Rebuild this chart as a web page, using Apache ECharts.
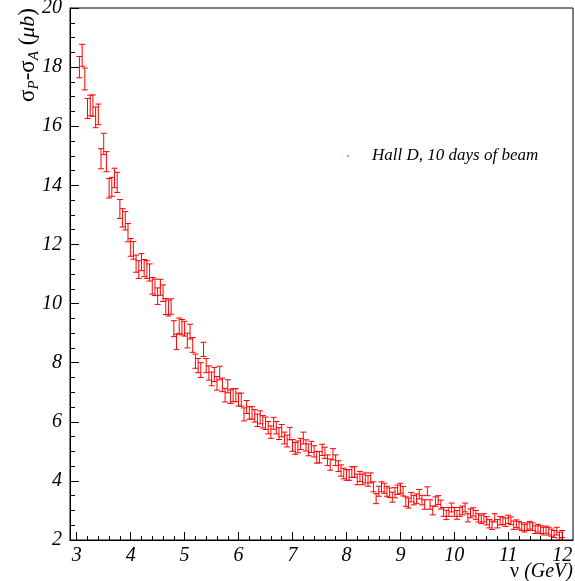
<!DOCTYPE html>
<html>
<head>
<meta charset="utf-8">
<script src="https://cdn.jsdelivr.net/npm/echarts@6/dist/echarts.min.js"></script>
<style>
html,body{margin:0;padding:0;background:#fff;}
#chart{width:575px;height:581px;}
</style>
</head>
<body>
<div id="chart"></div>
<script>
// photon energy nu (GeV)
var nu = [
3.05,3.10,3.15,3.20,3.25,3.30,3.35,3.40,3.45,3.50,
3.55,3.60,3.65,3.70,3.75,3.80,3.85,3.90,3.95,4.00,
4.05,4.10,4.15,4.20,4.25,4.30,4.35,4.40,4.45,4.50,
4.55,4.60,4.65,4.70,4.75,4.80,4.85,4.90,4.95,5.00,
5.05,5.10,5.15,5.20,5.25,5.30,5.35,5.40,5.45,5.50,
5.55,5.60,5.65,5.70,5.75,5.80,5.85,5.90,5.95,6.00,
6.05,6.10,6.15,6.20,6.25,6.30,6.35,6.40,6.45,6.50,
6.55,6.60,6.65,6.70,6.75,6.80,6.85,6.90,6.95,7.00,
7.05,7.10,7.15,7.20,7.25,7.30,7.35,7.40,7.45,7.50,
7.55,7.60,7.65,7.70,7.75,7.80,7.85,7.90,7.95,8.00,
8.05,8.10,8.15,8.20,8.25,8.30,8.35,8.40,8.45,8.50,
8.55,8.60,8.65,8.70,8.75,8.80,8.85,8.90,8.95,9.00,
9.05,9.10,9.15,9.20,9.25,9.30,9.35,9.40,9.45,9.50,
9.55,9.60,9.65,9.70,9.75,9.80,9.85,9.90,9.95,10.00,
10.05,10.10,10.15,10.20,10.25,10.30,10.35,10.40,10.45,10.50,
10.55,10.60,10.65,10.70,10.75,10.80,10.85,10.90,10.95,11.00,
11.05,11.10,11.15,11.20,11.25,11.30,11.35,11.40,11.45,11.50,
11.55,11.60,11.65,11.70,11.75,11.80,11.85,11.90,11.95,12.00
];
// sigma_P - sigma_A (microbarn)
var sigma = [
18.0,18.4,17.6,16.6,16.7,16.7,16.3,16.4,14.9,15.4,
14.8,13.9,13.95,14.25,14.1,13.2,12.9,12.8,12.4,11.9,
11.8,11.35,11.15,11.4,11.2,11.15,11.05,10.6,10.55,10.25,
10.55,10.35,9.9,9.85,9.9,9.15,8.7,9.25,9.2,9.15,
8.75,9.05,8.6,8.05,7.9,7.75,8.45,7.9,7.65,7.45,
7.6,7.3,7.65,7.25,6.9,7.2,6.85,6.9,6.9,6.75,
6.75,6.25,6.5,6.3,6.3,6.2,6.05,6.15,6.0,5.95,
5.8,5.65,5.95,5.8,5.6,5.7,5.45,5.35,5.6,5.2,
5.1,5.15,5.25,5.45,5.2,5.05,5.15,5.0,4.8,4.8,
5.05,4.95,4.7,4.55,4.9,4.7,4.5,4.35,4.25,4.2,
4.2,4.3,4.3,4.05,4.15,4.05,4.1,4.0,4.1,3.8,
3.4,3.65,3.8,3.75,3.65,3.6,3.45,3.6,3.7,3.75,
3.65,3.3,3.25,3.45,3.35,3.4,3.55,3.35,3.2,3.65,
3.2,3.0,3.3,3.35,3.2,2.95,2.85,2.95,3.1,2.95,
2.85,2.95,3.0,3.1,2.75,2.9,2.95,2.85,2.75,2.7,
2.75,2.65,2.55,2.5,2.75,2.55,2.65,2.65,2.6,2.7,
2.65,2.5,2.55,2.5,2.45,2.4,2.45,2.5,2.45,2.35,
2.4,2.35,2.3,2.35,2.3,2.25,2.2,2.3,2.15,2.2
];
// statistical error (microbarn)
var err = [
0.36,0.37,0.37,0.34,0.35,0.36,0.35,0.35,0.34,0.36,
0.34,0.33,0.32,0.33,0.34,0.32,0.31,0.31,0.31,0.30,
0.30,0.29,0.30,0.29,0.29,0.30,0.29,0.28,0.28,0.28,
0.27,0.28,0.27,0.27,0.26,0.27,0.26,0.26,0.26,0.25,
0.25,0.25,0.25,0.24,0.24,0.25,0.24,0.24,0.24,0.23,
0.24,0.23,0.23,0.23,0.23,0.22,0.23,0.22,0.22,0.22,
0.22,0.22,0.22,0.21,0.21,0.21,0.21,0.22,0.21,0.21,
0.21,0.21,0.20,0.21,0.20,0.21,0.20,0.20,0.21,0.20,
0.20,0.20,0.19,0.20,0.19,0.20,0.19,0.19,0.20,0.19,
0.19,0.19,0.18,0.19,0.19,0.18,0.18,0.19,0.18,0.18,
0.18,0.18,0.18,0.18,0.17,0.18,0.17,0.18,0.17,0.17,
0.17,0.17,0.17,0.17,0.17,0.16,0.17,0.17,0.16,0.17,
0.16,0.16,0.17,0.16,0.16,0.16,0.16,0.16,0.16,0.15,
0.16,0.15,0.16,0.15,0.15,0.15,0.16,0.15,0.15,0.15,
0.15,0.15,0.15,0.15,0.14,0.15,0.14,0.15,0.14,0.14,
0.14,0.14,0.14,0.14,0.14,0.14,0.14,0.13,0.14,0.14,
0.13,0.14,0.13,0.13,0.13,0.13,0.13,0.13,0.13,0.13,
0.13,0.13,0.13,0.12,0.13,0.12,0.12,0.13,0.12,0.12
];
var xMajorTicks = [3,4,5,6,7,8,9,10,11,12];
var yRange = [2, 20];
var xRange = [2.875, 12.2];
var legendText = 'Hall D, 10 days of beam';

var xMinorTicks = [];
for (var t = 0; t < xMajorTicks.length; t++) {
  for (var k = 1; k < 5; k++) {
    var v = +(xMajorTicks[t] + k * 0.2).toFixed(2);
    if (v < xRange[1]) xMinorTicks.push(v);
  }
}

var data = nu.map(function (x, i) { return [x, sigma[i], err[i]]; });

var serif = 'Liberation Serif, Times New Roman, serif';
var chart = echarts.init(document.getElementById('chart'), null, {renderer: 'canvas'});
var option = {
  animation: false,
  backgroundColor: '#fff',
  grid: {left: 70, right: 2, top: 8, bottom: 41, show: true, borderColor: '#000', borderWidth: 1, backgroundColor: 'transparent', outerBoundsMode: 'none'},
  xAxis: [{
    type: 'value', min: xRange[0], max: xRange[1], position: 'bottom',
    axisLine: {show: true, onZero: false, lineStyle: {color: '#000', width: 1}},
    axisTick: {show: true, inside: true, length: 8, customValues: xMajorTicks, lineStyle: {color: '#000', width: 1}},
    axisLabel: {show: true, customValues: xMajorTicks, margin: 6, fontFamily: serif, fontStyle: 'italic', fontSize: 20, color: '#000'},
    splitLine: {show: false}
  }, {
    type: 'value', min: xRange[0], max: xRange[1], position: 'bottom',
    axisLine: {show: false, onZero: false},
    axisTick: {show: true, inside: true, length: 4, customValues: xMinorTicks, lineStyle: {color: '#000', width: 1}},
    axisLabel: {show: false},
    splitLine: {show: false}
  }],
  yAxis: {
    type: 'value', min: yRange[0], max: yRange[1], interval: 2,
    axisLine: {show: true, onZero: false, lineStyle: {color: '#000', width: 1}},
    axisTick: {show: true, inside: true, length: 9, lineStyle: {color: '#000', width: 1}},
    minorTick: {show: true, splitNumber: 4, length: 5, lineStyle: {color: '#000', width: 1}},
    axisLabel: {margin: 8, fontFamily: serif, fontStyle: 'italic', fontSize: 20, color: '#000'},
    splitLine: {show: false}, minorSplitLine: {show: false}
  },
  series: [{
    type: 'custom',
    name: legendText,
    xAxisIndex: 0,
    data: data,
    clip: true,
    renderItem: function (params, api) {
      var x = api.value(0), y = api.value(1), e = api.value(2);
      var top = api.coord([x, y + e]);
      var bot = api.coord([x, y - e]);
      var cx = top[0];
      var st = {stroke: '#ff0000', lineWidth: 1};
      return {type: 'group', children: [
        {type: 'line', shape: {x1: cx, y1: top[1], x2: cx, y2: bot[1]}, style: st},
        {type: 'line', shape: {x1: cx - 3, y1: top[1], x2: cx + 3, y2: top[1]}, style: st},
        {type: 'line', shape: {x1: cx - 3, y1: bot[1], x2: cx + 3, y2: bot[1]}, style: st}
      ]};
    }
  }],
  graphic: [
    {type: 'circle', shape: {cx: 348, cy: 156, r: 0.8}, style: {fill: '#ff0000'}},
    {type: 'text', x: 372, y: 156, style: {text: legendText, font: 'italic 17px ' + serif, fill: '#000', verticalAlign: 'middle', align: 'left'}},
    {type: 'text', x: 28, y: 8, rotation: Math.PI / 2, style: {
      text: '{s|σ}{sub|P}{s|-σ}{sub|A}{s| (}{i|μb}{s|)}',
      align: 'right', verticalAlign: 'middle', fill: '#000',
      rich: {
        s: {fontFamily: serif, fontSize: 23, lineHeight: 28, verticalAlign: 'middle', fill: '#000'},
        i: {fontFamily: serif, fontStyle: 'italic', fontSize: 22, lineHeight: 28, verticalAlign: 'middle', fill: '#000'},
        sub: {fontFamily: serif, fontStyle: 'italic', fontSize: 15, lineHeight: 28, verticalAlign: 'bottom', fill: '#000'}
      }
    }},
    {type: 'text', x: 573, y: 572, style: {
      text: '{s|ν }{i|(GeV)}', align: 'right', verticalAlign: 'middle', fill: '#000',
      rich: {
        s: {fontFamily: serif, fontSize: 20, fill: '#000'},
        i: {fontFamily: serif, fontStyle: 'italic', fontSize: 20, fill: '#000'}
      }
    }}
  ]
};
chart.setOption(option);
</script>
</body>
</html>
